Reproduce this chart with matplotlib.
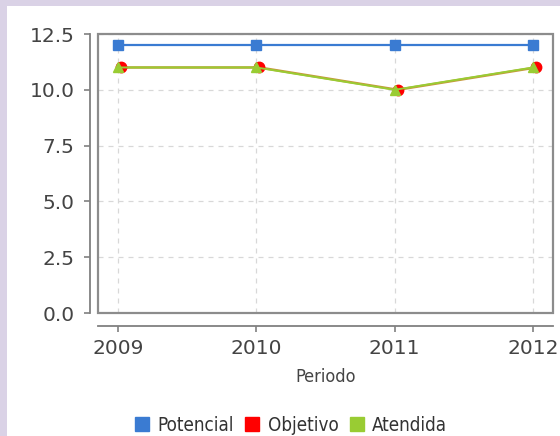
import matplotlib
matplotlib.use("Agg")
import matplotlib.pyplot as plt
import matplotlib.transforms as mtransforms
from matplotlib.patches import Rectangle, Patch

years = [2009, 2010, 2011, 2012]
potencial = [12, 12, 12, 12]
objetivo = [11, 11, 10, 11]
atendida = [11, 11, 10, 11]
yticks = [0.0, 2.5, 5.0, 7.5, 10.0, 12.5]
series_names = ["Potencial", "Objetivo", "Atendida"]

c_blue = "#3a7bd2"
c_red = "#ff0000"
c_green = "#99cc33"
lavender = "#dad2e6"

fig = plt.figure(figsize=(5.6, 4.36), dpi=100)
fig.patch.set_facecolor(lavender)
fig.patches.append(Rectangle((7 / 560, 0), 1 - 7 / 560, (436 - 6) / 436,
                             transform=fig.transFigure, facecolor="white",
                             edgecolor="none", zorder=-10))

ax = fig.add_axes([98 / 560, (436 - 313) / 436, (553 - 98) / 560, (313 - 34) / 436])
ax.set_facecolor("white")

ax.set_xlim(2009 - 20 / 138.3, 2012 + 20 / 138.3)
ax.set_ylim(0, 12.5)

ax.grid(True, color="#d8d8d8", linestyle=(0, (4, 4)), linewidth=0.9)
ax.set_axisbelow(True)

ax.plot(years, potencial, color=c_blue, lw=1.6, marker="s", ms=7.5,
        mec=c_blue, zorder=3)
off = mtransforms.offset_copy(ax.transData, fig=fig, x=3, y=0, units="dots")
ax.plot(years, objetivo, color="#c8963c", lw=1.8, marker="o", ms=7.5,
        mfc=c_red, mec=c_red, zorder=3, transform=off)
ax.plot(years, atendida, color=c_green, lw=1.4, marker="^", ms=7.5,
        mec=c_green, zorder=4)

for s in ax.spines.values():
    s.set_visible(False)
ax.spines["left"].set_visible(True)
ax.spines["bottom"].set_visible(True)
ax.spines["left"].set_position(("outward", 6))
ax.spines["bottom"].set_position(("outward", 9))
for k in ("left", "bottom"):
    ax.spines[k].set_color("#808080")
    ax.spines[k].set_linewidth(1.3)

ax.add_patch(Rectangle((0, 0), 1, 1, transform=ax.transAxes, fill=False,
                       edgecolor="#8c8c8c", lw=1.6, clip_on=False, zorder=5))

ax.set_xticks(years)
ax.set_xticklabels([str(y) for y in years])
ax.set_yticks(yticks)
ax.set_yticklabels([f"{v:.1f}" for v in yticks])
ax.tick_params(axis="both", colors="#808080", labelcolor="#444444",
               labelsize=14.5, length=4, width=1.2)
ax.tick_params(axis="y", pad=7)
ax.tick_params(axis="x", pad=6)

ax.set_xlabel("Periodo", fontsize=13, color="#444444", labelpad=7,
              fontstretch="condensed")

handles = [Patch(facecolor=c, edgecolor=c) for c in (c_blue, c_red, c_green)]
fig.legend(handles, series_names, loc="center", bbox_to_anchor=(291 / 560, 1 - 425 / 436),
           ncol=3, frameon=False, handlelength=0.75, handleheight=0.75,
           handletextpad=0.45, columnspacing=0.6,
           prop={"size": 13.5, "stretch": "condensed"}, labelcolor="#333333")

fig.savefig("out.png", dpi=100, facecolor=fig.get_facecolor())
